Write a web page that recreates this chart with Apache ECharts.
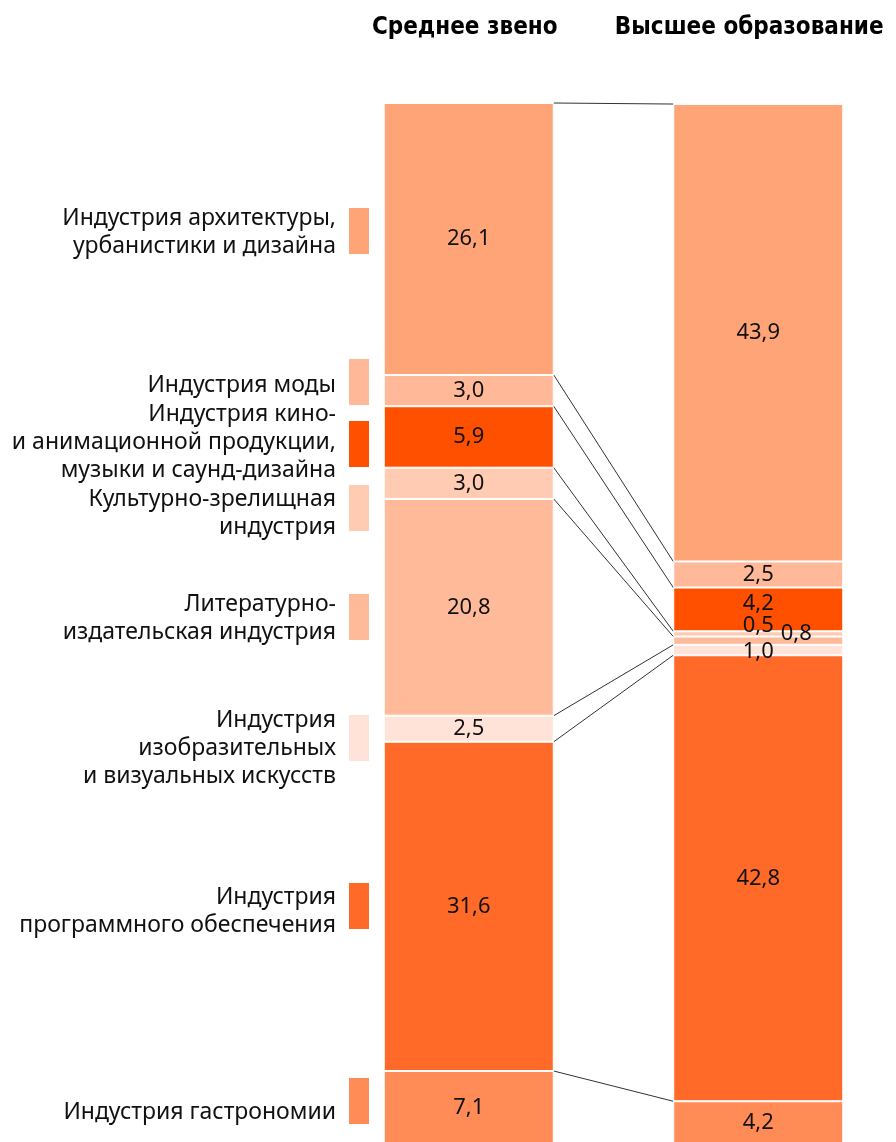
<!DOCTYPE html>
<html>
<head>
<meta charset="utf-8">
<script src="https://cdn.jsdelivr.net/npm/echarts@6/dist/echarts.min.js"></script>
<style>
  html, body { margin: 0; padding: 0; background: #fff; }
  #main { width: 896px; height: 1142px; }
</style>
</head>
<body>
<div id="main"></div>
<script>
// столбцы
var columns = ['Среднее звено', 'Высшее образование'];

// отрасли сверху вниз, как в легенде
var industries = [
    'Индустрия архитектуры,\nурбанистики и дизайна',
    'Индустрия моды',
    'Индустрия кино-\nи анимационной продукции,\nмузыки и саунд-дизайна',
    'Культурно-зрелищная\nиндустрия',
    'Литературно-\nиздательская индустрия',
    'Индустрия\nизобразительных\nи визуальных искусств',
    'Индустрия\nпрограммного обеспечения',
    'Индустрия гастрономии'
];
var secondary = [26.1, 3.0, 5.9, 3.0, 20.8, 2.5, 31.6, 7.1];
var higher = [43.9, 2.5, 4.2, 0.5, 0.8, 1.0, 42.8, 4.2];

var colors = ['#FFA476', '#FFB999', '#FF5000', '#FFCBB3', '#FFBA9A', '#FFE3D8', '#FF6A28', '#FF8B56'];

// сдвиги подписей в правом столбце (мелкие доли)
var rightLabelOffset = { 2: [0, -6], 3: [0, -8], 4: [38, -7], 5: [0, 2] };

// позиции подписей легенды (центр блока и квадрата)
var legendTextY = [232, 385, 442, 513, 618, 748, 911, 1112];
var legendRectY = [208, 359, 421, 485, 594, 715, 883, 1078];

var myChart = echarts.init(document.getElementById('main'));

function fmt(v) {
    return v.toFixed(1).replace('.', ',');
}

// верхние границы сегментов (накопленные суммы снизу)
var links = [];
for (var i = 0; i < industries.length; i++) {
    var l = 0, r = 0;
    for (var j = i; j < industries.length; j++) {
        l += secondary[j];
        r += higher[j];
    }
    links.push([0, l, r]);
}

var series = [];
for (var k = industries.length - 1; k >= 0; k--) {
    (function (k) {
        var rightItem = { value: higher[k] };
        if (rightLabelOffset[k]) {
            rightItem.label = { offset: rightLabelOffset[k] };
        }
        series.push({
            name: industries[k],
            type: 'bar',
            stack: 'all',
            barWidth: 170,
            itemStyle: { color: colors[k], borderColor: '#fff', borderWidth: 1 },
            label: {
                show: true,
                position: 'inside',
                color: '#111',
                fontSize: 22,
                fontFamily: 'Noto Sans',
                formatter: function (p) { return fmt(p.value); }
            },
            data: [secondary[k], rightItem]
        });
    })(k);
}

series.push({
    type: 'custom',
    silent: true,
    encode: { x: 0, y: 1 },
    renderItem: function (params, api) {
        var p0 = api.coord([0, api.value(1)]);
        var p1 = api.coord([1, api.value(2)]);
        return {
            type: 'line',
            shape: { x1: p0[0] + 85, y1: p0[1], x2: p1[0] - 85, y2: p1[1] },
            style: { stroke: '#333', lineWidth: 1 }
        };
    },
    data: links
});

var graphic = [];
for (var g = 0; g < industries.length; g++) {
    graphic.push({
        type: 'text',
        x: 336,
        y: legendTextY[g],
        style: {
            text: industries[g],
            align: 'right',
            verticalAlign: 'middle',
            fill: '#111',
            font: '23px "Noto Sans"',
            lineHeight: 28
        }
    });
    graphic.push({
        type: 'rect',
        shape: { x: 349, y: legendRectY[g], width: 20, height: 46 },
        style: { fill: colors[g] }
    });
}

var option = {
    animation: false,
    backgroundColor: '#fff',
    grid: { left: 324, width: 579, top: 103, height: 1042, outerBoundsMode: 'none' },
    xAxis: {
        type: 'category',
        position: 'top',
        data: [
            { value: columns[0], textStyle: { padding: [0, 8, 0, 0] } },
            { value: columns[1], textStyle: { padding: [0, 18, 0, 0] } }
        ],
        axisLine: { show: false },
        axisTick: { show: false },
        axisLabel: {
            interval: 0,
            margin: 63,
            color: '#000',
            fontSize: 24,
            fontWeight: 'bold',
            fontFamily: '"Liberation Sans Narrow", "DejaVu Sans Condensed", sans-serif'
        }
    },
    yAxis: {
        type: 'value',
        min: 0,
        max: 100,
        show: false
    },
    graphic: graphic,
    series: series
};

myChart.setOption(option);
</script>
</body>
</html>
